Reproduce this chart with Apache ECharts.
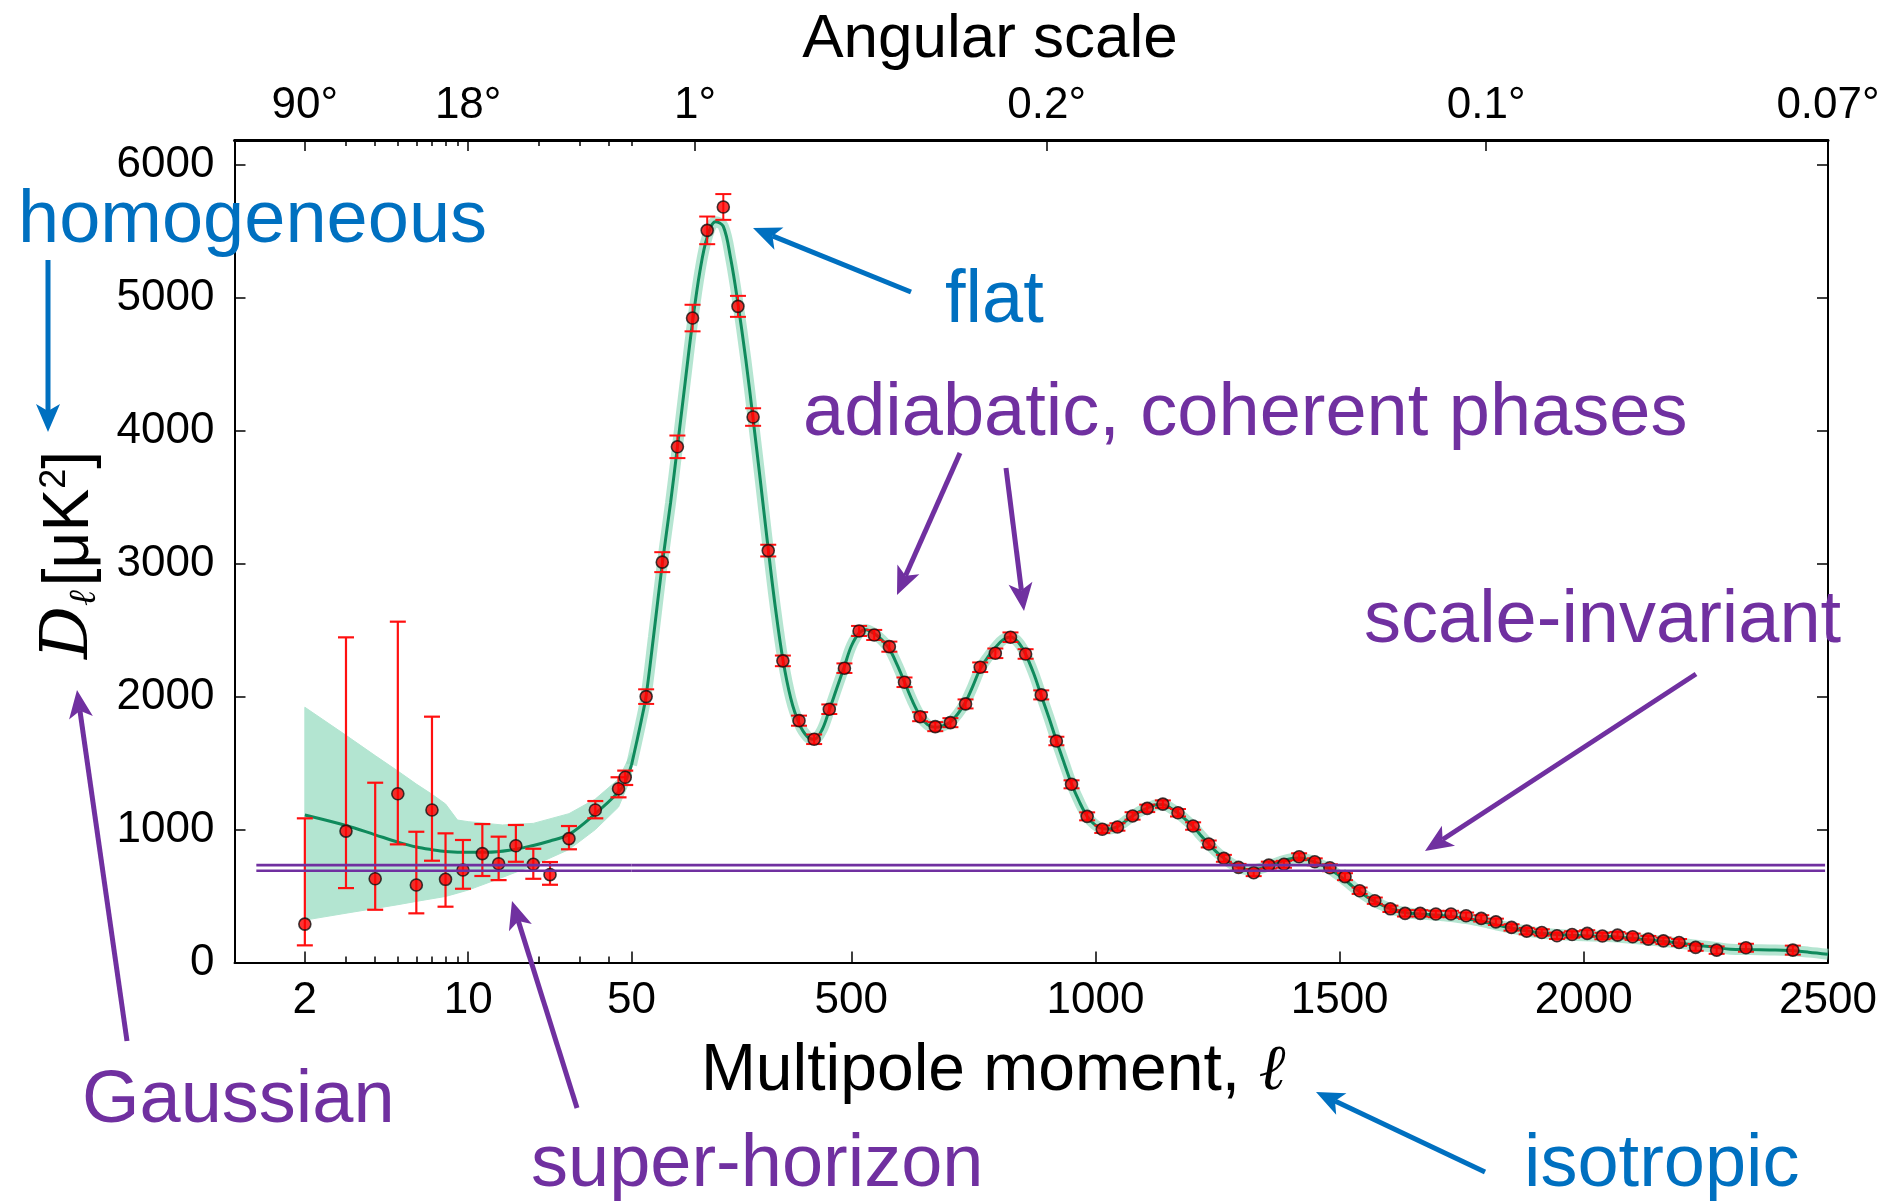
<!DOCTYPE html>
<html>
<head>
<meta charset="utf-8">
<script src="https://cdn.jsdelivr.net/npm/echarts@6/dist/echarts.min.js"></script>
<style>
  html, body { margin: 0; padding: 0; background: #fff; }
  #chart { width: 1893px; height: 1204px; }
</style>
</head>
<body>
<div id="chart"></div>
<script>
// ---- CMB temperature power spectrum, D_ell in muK^2 ----

// Low multipoles (logarithmic part of the multipole axis)
const lowEll   = [2, 3, 4, 5, 6, 7, 8, 9.5, 11.5, 13.5, 16, 19, 22.4, 27, 35, 44, 47];
const lowDl    = [289, 989, 630, 1270, 583, 1148, 626, 696, 819, 743, 879, 739, 661, 932, 1148, 1308, 1394];
const lowErrHi = [1085, 2447, 1353, 2565, 984, 1850, 972, 922, 1042, 947, 1035, 856, 756, 1027, 1215, 1394, 1444];
const lowErrLo = [129, 560, 397, 889, 370, 766, 420, 555, 651, 620, 758, 630, 585, 852, 1085, 1243, 1336];

// Binned high multipoles (linear part of the axis)
const highEll = [80, 113, 144, 175, 205, 238, 268, 299, 330, 360,
  393, 424, 455, 486, 516, 547, 578, 609, 641, 672,
  703, 734, 764, 795, 826, 857, 889, 920, 951, 983,
  1014, 1045, 1076, 1106, 1138, 1169, 1200, 1232, 1263, 1293,
  1324, 1355, 1386, 1417, 1449, 1480, 1511, 1541, 1572, 1604,
  1634, 1665, 1697, 1728, 1759, 1790, 1820, 1852, 1883, 1914,
  1945, 1976, 2007, 2038, 2069, 2100, 2132, 2163, 2195, 2229,
  2272, 2332, 2428];
const highDl = [2001, 3013, 3881, 4850, 5510, 5686, 4938, 4105, 3100, 2270,
  1820, 1680, 1906, 2215, 2495, 2465, 2377, 2109, 1850, 1775,
  1805, 1946, 2222, 2327, 2448, 2322, 2014, 1667, 1341, 1100,
  1003, 1020, 1103, 1160, 1192, 1127, 1027, 892, 784, 716,
  676, 733, 739, 796, 758, 713, 646, 540, 465, 404,
  370, 370, 365, 365, 352, 332, 306, 264, 236, 226,
  201, 211, 219, 199, 206, 194, 176, 163, 151, 114,
  93, 111, 93];
const highErr = [55, 75, 85, 100, 104, 97, 79, 66, 44, 40,
  38, 36, 36, 36, 38, 38, 38, 36, 34, 34,
  34, 34, 36, 36, 36, 36, 34, 32, 30, 30,
  28, 28, 28, 28, 28, 28, 28, 26, 26, 26,
  26, 26, 26, 26, 26, 26, 26, 24, 24, 24,
  24, 24, 24, 24, 24, 24, 24, 24, 24, 24,
  24, 24, 24, 24, 24, 24, 24, 24, 26, 26,
  28, 30, 34];

// Best-fit model spectrum
const modelLowEll = [2, 3, 4, 5, 6, 7, 8, 10, 12, 15, 19, 22.4, 27, 35, 44, 47, 50];
const modelLowDl  = [1110, 1031, 961, 906, 869, 849, 836, 829, 829, 844, 881, 914, 964, 1120, 1283, 1358, 1486];
const modelHighEll = [50, 60, 70, 80, 95, 113, 130, 144, 160, 175, 190, 205, 222, 238, 253, 268, 284, 299, 315, 330,
  345, 360, 376, 393, 410, 424, 440, 455, 470, 486, 500, 516, 530, 547, 562, 578, 594, 609, 625, 641,
  656, 672, 687, 703, 718, 734, 749, 764, 780, 795, 811, 826, 842, 857, 873, 889, 905, 920, 936, 951,
  967, 983, 998, 1014, 1030, 1045, 1060, 1076, 1090, 1106, 1122, 1138, 1153, 1169, 1184, 1200, 1215, 1232, 1247, 1263,
  1278, 1293, 1309, 1324, 1340, 1355, 1370, 1386, 1402, 1417, 1433, 1449, 1464, 1480, 1495, 1511, 1526, 1541, 1557, 1572,
  1588, 1604, 1619, 1634, 1650, 1665, 1681, 1697, 1712, 1728, 1743, 1759, 1774, 1790, 1805, 1820, 1836, 1852, 1867, 1883,
  1900, 1920, 1945, 1970, 2000, 2030, 2060, 2090, 2120, 2150, 2180, 2210, 2240, 2270, 2300, 2340, 2380, 2420, 2460, 2500];
const modelHighDl = [1486, 1650, 1820, 2010, 2450, 3000, 3460, 3880, 4370, 4820, 5200, 5460, 5575, 5540, 5300, 4960, 4540, 4090, 3590, 3110,
  2660, 2280, 1990, 1800, 1700, 1680, 1750, 1900, 2060, 2230, 2380, 2480, 2505, 2475, 2430, 2360, 2240, 2110, 1970, 1855,
  1790, 1770, 1780, 1810, 1870, 1960, 2080, 2210, 2300, 2370, 2430, 2450, 2410, 2320, 2180, 2010, 1840, 1670, 1500, 1345,
  1210, 1100, 1040, 1008, 1005, 1022, 1060, 1102, 1135, 1162, 1185, 1190, 1165, 1125, 1078, 1025, 960, 892, 835, 785,
  745, 718, 700, 698, 710, 728, 748, 768, 782, 786, 776, 756, 732, 703, 665, 620, 575, 532, 492, 460,
  430, 405, 388, 376, 369, 365, 361, 357, 352, 346, 339, 331, 321, 310, 297, 284, 271, 259, 248, 238,
  228, 218, 210, 206, 202, 198, 193, 185, 175, 164, 152, 139, 126, 114, 100, 97, 94, 90, 78, 62];

// Cosmic-variance band around the model at low multipoles
const bandEll = [2, 3, 4, 5, 6, 7, 8, 9, 10, 14, 19, 27, 35, 44, 50];
const bandHi  = [1921, 1710, 1557, 1441, 1343, 1266, 1193, 1072, 1060, 1035, 1047, 1120, 1230, 1380, 1580];
const bandLo  = [319, 371, 407, 435, 460, 480, 497, 522, 545, 640, 730, 850, 1000, 1170, 1400];

// Scale-invariant reference level (two parallel lines)
const levelDl  = [733, 690];
const levelEll = [1.24, 2494];

// Axis ticks and labels
const yTicks         = [0, 1000, 2000, 3000, 4000, 5000, 6000];
const bottomTicksLog = [2, 10, 50];
const minorTicksLog  = [3, 4, 5, 6, 7, 8, 9, 20, 30, 40];
const topMinorLog    = [3, 4, 5, 6, 7, 8, 9, 20, 30, 40, 50];
const bottomTicksLin = [500, 1000, 1500, 2000, 2500];
const topTickEll     = [2, 10, 180, 900, 1800, 2500];
const topTickLabels  = ['90°', '18°', '1°', '0.2°', '0.1°', '0.07°'];

const ELL_SPLIT = 50;
const Y_MAX = 6190;

const FONT = "'Liberation Sans', Arial, sans-serif";
const BLUE = '#0070C0';
const PURPLE = '#7030A0';
const GREEN = '#0f8a5c';
const BAND = '#b3e5d1';

const chart = echarts.init(document.getElementById('chart'), null, { renderer: 'canvas' });

const gridTop = 140, gridH = 822.5;
const grids = [
  { left: 234.5, top: gridTop, width: 397, height: gridH },
  { left: 631.5, top: gridTop, width: 1196.5, height: gridH }
];

const axisLine = (w) => ({ show: true, lineStyle: { color: '#000', width: w } });
const tickLabel = { color: '#000', fontFamily: FONT, fontSize: 44 };
const plainNumber = (v) => String(Math.round(v));

function degreeLabel(v) {
  let best = 0;
  for (let i = 1; i < topTickEll.length; i++) {
    if (Math.abs(topTickEll[i] - v) < Math.abs(topTickEll[best] - v)) best = i;
  }
  return topTickLabels[best];
}

const xAxes = [
  // log part, bottom: major ticks + labels
  { gridIndex: 0, type: 'log', logBase: 10, min: 1, max: ELL_SPLIT, position: 'bottom',
    axisLine: axisLine(2), splitLine: { show: false }, minorTick: { show: false },
    axisTick: { show: true, inside: true, length: 11, customValues: bottomTicksLog, lineStyle: { color: '#000', width: 1.5 } },
    axisLabel: Object.assign({ show: true, margin: 16, customValues: bottomTicksLog, formatter: plainNumber }, tickLabel) },
  // log part, bottom: minor ticks
  { gridIndex: 0, type: 'log', logBase: 10, min: 1, max: ELL_SPLIT, position: 'bottom',
    axisLine: { show: false }, splitLine: { show: false },
    axisTick: { show: true, inside: true, length: 6, customValues: minorTicksLog, lineStyle: { color: '#000', width: 1.5 } },
    axisLabel: { show: false } },
  // log part, top: angular scale
  { gridIndex: 0, type: 'log', logBase: 10, min: 1, max: ELL_SPLIT, position: 'top',
    axisLine: axisLine(3), splitLine: { show: false },
    axisTick: { show: true, inside: true, length: 11, customValues: [2, 10], lineStyle: { color: '#000', width: 1.5 } },
    axisLabel: Object.assign({ show: true, margin: 12, customValues: [2, 10], formatter: degreeLabel }, tickLabel) },
  { gridIndex: 0, type: 'log', logBase: 10, min: 1, max: ELL_SPLIT, position: 'top',
    axisLine: { show: false }, splitLine: { show: false },
    axisTick: { show: true, inside: true, length: 6, customValues: topMinorLog, lineStyle: { color: '#000', width: 1.5 } },
    axisLabel: { show: false } },
  // linear part, bottom
  { gridIndex: 1, type: 'value', min: ELL_SPLIT, max: 2500, position: 'bottom',
    axisLine: axisLine(2), splitLine: { show: false },
    axisTick: { show: true, inside: true, length: 11, customValues: bottomTicksLin, lineStyle: { color: '#000', width: 1.5 } },
    axisLabel: Object.assign({ show: true, margin: 16, customValues: bottomTicksLin, formatter: plainNumber }, tickLabel) },
  // linear part, top: angular scale
  { gridIndex: 1, type: 'value', min: ELL_SPLIT, max: 2500, position: 'top',
    axisLine: axisLine(3), splitLine: { show: false },
    axisTick: { show: true, inside: true, length: 11, customValues: topTickEll.slice(2), lineStyle: { color: '#000', width: 1.5 } },
    axisLabel: Object.assign({ show: true, margin: 12, customValues: topTickEll.slice(2), formatter: degreeLabel }, tickLabel) }
];

const yAxes = [
  { gridIndex: 0, type: 'value', min: 0, max: Y_MAX, position: 'left',
    axisLine: axisLine(2), splitLine: { show: false },
    axisTick: { show: true, inside: true, length: 11, customValues: yTicks, lineStyle: { color: '#000', width: 1.5 } },
    axisLabel: Object.assign({ show: true, margin: 20, customValues: yTicks, formatter: plainNumber }, tickLabel) },
  { gridIndex: 1, type: 'value', min: 0, max: Y_MAX, position: 'right',
    axisLine: axisLine(2), splitLine: { show: false },
    axisTick: { show: true, inside: true, length: 11, customValues: yTicks, lineStyle: { color: '#000', width: 1.5 } },
    axisLabel: { show: false } }
];

function errorBars(capHalf, width) {
  return function (params, api) {
    const x = api.value(0), lo = api.value(1), hi = api.value(2);
    const a = api.coord([x, lo]), b = api.coord([x, hi]);
    const style = { stroke: '#ff1010', lineWidth: width };
    return {
      type: 'group',
      children: [
        { type: 'line', shape: { x1: a[0], y1: a[1], x2: b[0], y2: b[1] }, style },
        { type: 'line', shape: { x1: a[0] - capHalf, y1: a[1], x2: a[0] + capHalf, y2: a[1] }, style },
        { type: 'line', shape: { x1: b[0] - capHalf, y1: b[1], x2: b[0] + capHalf, y2: b[1] }, style }
      ]
    };
  };
}

// band drawn as one polygon: upper edge left to right, lower edge back
function bandPolygon(params, api) {
  if (params.dataIndex !== 0) return null;
  const upper = bandEll.map((l, i) => api.coord([l, bandHi[i]]));
  const lower = bandEll.map((l, i) => api.coord([l, bandLo[i]])).reverse();
  return {
    type: 'polygon',
    shape: { points: upper.concat(lower) },
    style: { fill: BAND, stroke: BAND, lineWidth: 1 }
  };
}

const pointStyle = { color: '#ff0000', borderColor: '#111', borderWidth: 1.6 };

const series = [
  // cosmic-variance band
  { type: 'custom', xAxisIndex: 0, yAxisIndex: 0, silent: true, renderItem: bandPolygon,
    encode: { x: 0, y: [1, 2] },
    data: bandEll.map((l, i) => [l, bandLo[i], bandHi[i]]), z: 1 },
  // model, low ell
  { type: 'line', xAxisIndex: 0, yAxisIndex: 0, symbol: 'none', smooth: 0.35, silent: true,
    lineStyle: { color: GREEN, width: 3 },
    data: modelLowEll.map((l, i) => [l, modelLowDl[i]]), z: 2 },
  // model, high ell: soft band then line
  { type: 'line', xAxisIndex: 4, yAxisIndex: 1, symbol: 'none', smooth: 0.35, silent: true,
    lineStyle: { color: 'rgba(150,218,190,0.7)', width: 11 },
    data: modelHighEll.map((l, i) => [l, modelHighDl[i]]), z: 1 },
  { type: 'line', xAxisIndex: 4, yAxisIndex: 1, symbol: 'none', smooth: 0.35, silent: true,
    lineStyle: { color: GREEN, width: 3 },
    data: modelHighEll.map((l, i) => [l, modelHighDl[i]]), z: 2 },
  // error bars
  { type: 'custom', xAxisIndex: 0, yAxisIndex: 0, renderItem: errorBars(8, 2.2),
    encode: { x: 0, y: [1, 2] },
    data: lowEll.map((l, i) => [l, lowErrLo[i], lowErrHi[i]]), z: 3 },
  { type: 'custom', xAxisIndex: 4, yAxisIndex: 1, renderItem: errorBars(8, 2),
    encode: { x: 0, y: [1, 2] },
    data: highEll.map((l, i) => [l, highDl[i] - highErr[i], highDl[i] + highErr[i]]), z: 3 },
  // data points
  { type: 'scatter', xAxisIndex: 0, yAxisIndex: 0, symbol: 'circle', symbolSize: 12,
    itemStyle: pointStyle, data: lowEll.map((l, i) => [l, lowDl[i]]), z: 4 },
  { type: 'scatter', xAxisIndex: 4, yAxisIndex: 1, symbol: 'circle', symbolSize: 12,
    itemStyle: pointStyle, data: highEll.map((l, i) => [l, highDl[i]]), z: 4 }
];

// scale-invariant level lines across both axis parts
levelDl.forEach((v) => {
  series.push({ type: 'line', xAxisIndex: 0, yAxisIndex: 0, symbol: 'none', silent: true,
    lineStyle: { color: PURPLE, width: 2.6 }, data: [[levelEll[0], v], [ELL_SPLIT, v]], z: 5 });
  series.push({ type: 'line', xAxisIndex: 4, yAxisIndex: 1, symbol: 'none', silent: true,
    lineStyle: { color: PURPLE, width: 2.6 }, data: [[ELL_SPLIT, v], [levelEll[1], v]], z: 5 });
});

// annotation arrows
function arrow(x1, y1, x2, y2, color, w) {
  const dx = x2 - x1, dy = y2 - y1, len = Math.hypot(dx, dy);
  const ux = dx / len, uy = dy / len, nx = -uy, ny = ux;
  const L = 28, W = 12, notch = 7;
  const bx = x2 - ux * L, by = y2 - uy * L;
  return [
    { type: 'line', z: 100, shape: { x1, y1, x2: bx + ux * notch, y2: by + uy * notch },
      style: { stroke: color, lineWidth: w } },
    { type: 'polygon', z: 100, shape: { points: [
        [x2, y2], [bx + nx * W, by + ny * W], [bx + ux * notch, by + uy * notch], [bx - nx * W, by - ny * W]
      ] }, style: { fill: color } }
  ];
}

function note(text, x, y, color) {
  return { type: 'text', z: 100, x, y,
    style: { text, fill: color, font: '74px ' + FONT, align: 'left', verticalAlign: 'middle' } };
}

const graphic = [].concat(
  note('homogeneous', 18, 222, BLUE),
  note('flat', 945, 302, BLUE),
  note('adiabatic, coherent phases', 803, 415, PURPLE),
  note('scale-invariant', 1364, 622, PURPLE),
  note('Gaussian', 82, 1102, PURPLE),
  note('super-horizon', 531, 1166, PURPLE),
  note('isotropic', 1524, 1166, BLUE),
  arrow(48, 260, 48, 432, BLUE, 5),
  arrow(911, 292, 753, 228, BLUE, 5),
  arrow(960, 453, 897, 595, PURPLE, 5),
  arrow(1006, 468, 1024, 611, PURPLE, 5),
  arrow(1696, 674, 1425, 851, PURPLE, 5),
  arrow(127, 1041, 77, 690, PURPLE, 5),
  arrow(577, 1108, 512, 901, PURPLE, 5),
  arrow(1485, 1172, 1316, 1092, BLUE, 5),
  [
    { type: 'text', z: 50, x: 990, y: 40,
      style: { text: 'Angular scale', fill: '#000', font: '62px ' + FONT, align: 'center', verticalAlign: 'middle' } },
    { type: 'text', z: 50, x: 993, y: 1072,
      style: { text: 'Multipole moment, {l|ℓ}', fill: '#000', font: '66px ' + FONT, align: 'center', verticalAlign: 'middle',
        rich: { l: { fontFamily: "'DejaVu Serif', serif", fontStyle: 'italic', fontSize: 64, fill: '#000' } } } },
    { type: 'text', z: 50, x: 70, y: 555, rotation: Math.PI / 2,
      style: { text: '{d|D}{s|ℓ}{b|[μK}{p|2}{b|]}', fill: '#000', align: 'center', verticalAlign: 'middle',
        rich: {
          d: { fontFamily: "'DejaVu Serif', serif", fontStyle: 'italic', fontSize: 66, fill: '#000' },
          s: { fontFamily: "'DejaVu Serif', serif", fontStyle: 'italic', fontSize: 38, fill: '#000', padding: [30, 4, 0, 0] },
          b: { fontFamily: FONT, fontSize: 64, fill: '#000' },
          p: { fontFamily: FONT, fontSize: 36, fill: '#000', padding: [0, 0, 30, 0] }
        } } }
  ]
);

chart.setOption({
  animation: false,
  backgroundColor: '#fff',
  grid: grids,
  xAxis: xAxes,
  yAxis: yAxes,
  series,
  graphic
});
</script>
</body>
</html>
